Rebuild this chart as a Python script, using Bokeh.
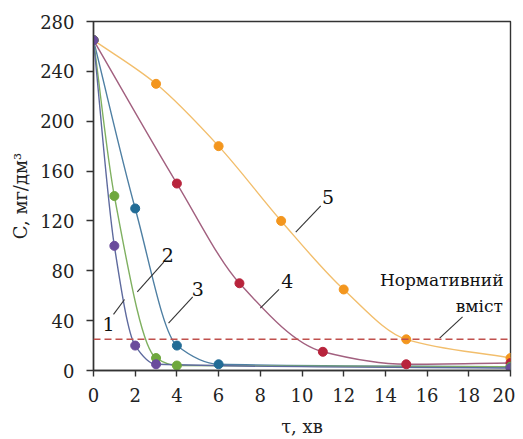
import numpy as np
from bokeh.plotting import figure
from bokeh.models import Range1d, Span, Label, FixedTicker
from bokeh.embed import file_html
from bokeh.resources import INLINE

# ---- data ----
tau1 = [0, 1, 2, 3, 20];            c1 = [265, 100, 20, 5, 2]
tau2 = [0, 1, 3, 4, 20];            c2 = [265, 140, 10, 4, 3]
tau3 = [0, 2, 4, 6, 20];            c3 = [265, 130, 20, 5, 3]
tau4 = [0, 4, 7, 11, 15, 20];       c4 = [265, 150, 70, 15, 5, 6]
tau5 = [0, 3, 6, 9, 12, 15, 20];    c5 = [265, 230, 180, 120, 65, 25, 10]
norm_level = 25
x_ticks = [0, 2, 4, 6, 8, 10, 12, 14, 16, 18, 20]
y_ticks = [0, 40, 80, 120, 160, 200, 240, 280]
series_names = ["1", "2", "3", "4", "5"]

marker_colors = ["#6A4C9C", "#6FA83E", "#226C96", "#B8243C", "#F3961E"]
line_colors = ["#5E6A9E", "#7FB060", "#4E7FA3", "#A2607F", "#F2BE6C"]

XMIN, XMAX, YMIN, YMAX = 0, 20, 0, 280


def pchip_bezier(xs, ys):
    x = np.asarray(xs, float); y = np.asarray(ys, float)
    h = np.diff(x); d = np.diff(y) / h
    n = len(x); m = np.zeros(n)
    for i in range(1, n - 1):
        if d[i - 1] * d[i] > 0:
            w1 = 2 * h[i] + h[i - 1]; w2 = h[i] + 2 * h[i - 1]
            m[i] = (w1 + w2) / (w1 / d[i - 1] + w2 / d[i])
    m[0] = d[0]; m[-1] = d[-1]
    x0 = x[:-1]; x1 = x[1:]; y0 = y[:-1]; y1 = y[1:]
    cx0 = x0 + h / 3; cy0 = y0 + m[:-1] * h / 3
    cx1 = x1 - h / 3; cy1 = y1 - m[1:] * h / 3
    return dict(x0=x0, y0=y0, x1=x1, y1=y1, cx0=cx0, cy0=cy0, cx1=cx1, cy1=cy1)


p = figure(width=515, height=439, output_backend="svg", toolbar_location=None,
           x_range=Range1d(XMIN, XMAX), y_range=Range1d(YMIN, YMAX),
           min_border_left=93, min_border_right=5, min_border_top=21, min_border_bottom=68)
p.outline_line_color = "#333333"
p.outline_line_width = 1.4
p.grid.visible = False
p.background_fill_color = "white"

FONT = "DejaVu Serif"
for ax in (p.xaxis[0], p.yaxis[0]):
    ax.major_label_text_font = FONT
    ax.major_label_text_font_size = "18px"
    ax.major_label_text_color = "#222222"
    ax.axis_line_color = "#333333"
    ax.axis_line_width = 1.4
    ax.major_tick_line_color = "#333333"
    ax.major_tick_line_width = 1.4
    ax.major_tick_in = 0
    ax.minor_tick_line_color = None
    ax.axis_label_text_font = FONT
    ax.axis_label_text_font_size = "18px"
    ax.axis_label_text_font_style = "normal"
    ax.axis_label_text_color = "#222222"

p.xaxis.major_tick_out = 6
p.yaxis.major_tick_out = 7
p.xaxis.ticker = FixedTicker(ticks=x_ticks)
p.yaxis.ticker = FixedTicker(ticks=y_ticks)
p.xaxis.axis_label = "τ, хв"
p.yaxis.axis_label = "C, мг/дм³"
p.xaxis.major_label_standoff = 11
p.xaxis.axis_label_standoff = 11
p.yaxis.major_label_standoff = 12
p.yaxis.axis_label_standoff = 6

# normative level
p.add_layout(Span(location=norm_level, dimension="width", line_color="#C0504D",
                  line_width=1.5, line_dash="7 4"))

all_tau = [tau1, tau2, tau3, tau4, tau5]
all_c = [c1, c2, c3, c4, c5]
for i in reversed(range(5)):
    b = pchip_bezier(all_tau[i], all_c[i])
    p.bezier(x0="x0", y0="y0", x1="x1", y1="y1", cx0="cx0", cy0="cy0", cx1="cx1", cy1="cy1",
             source=b, line_color=line_colors[i], line_width=1.4)
for i in reversed(range(5)):
    p.scatter(all_tau[i], all_c[i], size=9, color=marker_colors[i], line_color=marker_colors[i])

# labels with leader lines
lab_pos = [(0.72, 37), (3.56, 93), (5.0, 65), (9.3, 72), (11.25, 139)]
lead = [((0.96, 45), (1.49, 57)), ((3.37, 87), (2.1, 63)), ((4.76, 59), (3.6, 38)),
        ((8.9, 65), (8.0, 50)), ((10.9, 132), (9.7, 111))]
for name, (lx, ly), ((ax0, ay0), (ax1, ay1)) in zip(series_names, lab_pos, lead):
    p.add_layout(Label(x=lx, y=ly, text=name, text_font=FONT, text_font_size="19px",
                       text_align="center", text_baseline="middle", text_color="#111111"))
    p.segment(x0=[ax0], y0=[ay0], x1=[ax1], y1=[ay1], line_color="#333333", line_width=1.1)

p.add_layout(Label(x=16.7, y=73, text="Нормативний", text_font=FONT, text_font_size="17px",
                   text_align="center", text_baseline="middle", text_color="#111111"))
p.add_layout(Label(x=18.5, y=52, text="вміст", text_font=FONT, text_font_size="17px",
                   text_align="center", text_baseline="middle", text_color="#111111"))
p.segment(x0=[17.7], y0=[43], x1=[16.6], y1=[26], line_color="#333333", line_width=1.1)

open("out.html", "w").write(file_html(p, INLINE))
